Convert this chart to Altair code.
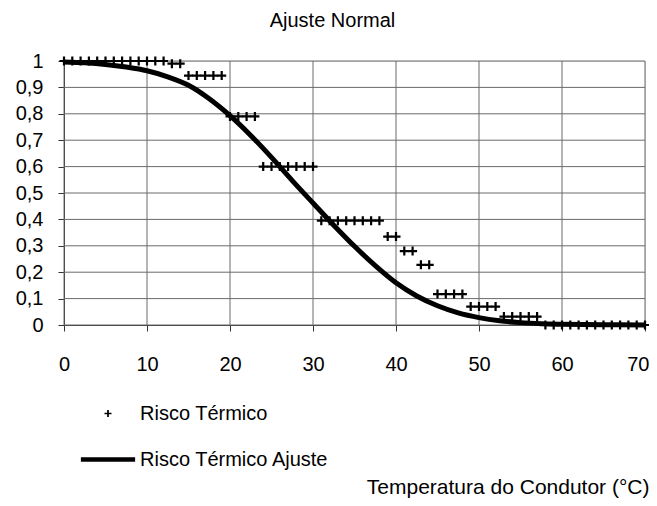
import altair as alt
import pandas as pd

# Observed data (Risco Térmico)
temp_points = list(range(0, 71))
risk_points = ([1.0] * 13 + [0.99] * 2 + [0.945] * 5 + [0.79] * 4 + [0.60] * 7 +
               [0.395] * 8 + [0.335] * 2 + [0.28] * 2 + [0.228] * 2 + [0.117] * 4 +
               [0.07] * 4 + [0.032] * 5 + [0.0] * 13)

# Fitted curve (Risco Térmico Ajuste)
temp_fit = [0, 2.5, 5, 7.5, 10, 12.5, 15, 17.5, 20, 22.5, 25, 27.5, 30, 32.5, 35,
            37.5, 40, 42.5, 45, 47.5, 50, 52.5, 55, 57.5, 60, 65, 70]
risk_fit = [0.996, 0.993, 0.987, 0.977, 0.963, 0.94, 0.908, 0.857, 0.793, 0.718,
            0.635, 0.547, 0.462, 0.378, 0.298, 0.225, 0.16, 0.11, 0.073, 0.046,
            0.028, 0.016, 0.009, 0.005, 0.003, 0.001, 0.0]

x_ticks = [0, 10, 20, 30, 40, 50, 60, 70]
y_ticks = [0, 0.1, 0.2, 0.3, 0.4, 0.5, 0.6, 0.7, 0.8, 0.9, 1]

series_names = ["Risco Térmico", "Risco Térmico Ajuste"]

pts = pd.DataFrame({"x": temp_points, "y": risk_points, "series": series_names[0]})
fit = pd.DataFrame({"x": temp_fit, "y": risk_fit})
xgrid = pd.DataFrame({"x": x_ticks})
ygrid = pd.DataFrame({"y": y_ticks})

FONT = "Liberation Sans"
GRID = "#6a6a6a"

plus_path = ("M-0.146,-0.036H-0.036V-0.146H0.036V-0.036H0.146V0.036H0.036V0.146"
             "H-0.036V0.036H-0.146Z")
line_path = "M-1.13,-0.098H1.13V0.098H-1.13Z"

xscale = alt.Scale(domain=[0, 70], nice=False, zero=False)
yscale = alt.Scale(domain=[0, 1], nice=False)


def make_xaxis():
    return alt.Axis(values=x_ticks, grid=False, domainColor="#333",
                    tickColor="#333", tickSize=6, labelFontSize=20, labelFont=FONT,
                    labelColor="black", labelPadding=23, labelOverlap=False,
                    labelAlign=alt.condition("datum.value == 70", alt.value("right"),
                                             alt.value("center")),
                    labelOffset=alt.condition("datum.value == 70", alt.value(4), alt.value(0)),
                    title="Temperatura do Condutor (°C)",
                    titleFont=FONT, titleFontSize=21, titleFontWeight="normal",
                    titleColor="black", titleAlign="right", titleX=585, titleY=168,
                    titleBaseline="alphabetic", titleAnchor="end")


def make_yaxis():
    return alt.Axis(values=y_ticks, tickCount=11, grid=False,
                    domainColor="#333", tickColor="#333", tickSize=6, labelFontSize=20,
                    labelFont=FONT, labelColor="black", labelPadding=15,
                    labelOverlap=False, title=None,
                    labelExpr="replace(format(datum.value, '.1~f'), '.', ',')")


vgrid = alt.Chart(xgrid).mark_rule(color=GRID, strokeWidth=1).encode(
    x=alt.X("x:Q", scale=xscale, axis=make_xaxis()),
)
hgrid = alt.Chart(ygrid).mark_rule(color=GRID, strokeWidth=1).encode(
    y=alt.Y("y:Q", scale=yscale, axis=make_yaxis()),
)

points = alt.Chart(pts).mark_point(filled=True, color="black", size=3800, opacity=1,
                                   strokeWidth=0).encode(
    x=alt.X("x:Q", scale=xscale, axis=make_xaxis()),
    y=alt.Y("y:Q", scale=yscale, axis=make_yaxis()),
    shape=alt.Shape("series:N",
                    scale=alt.Scale(domain=series_names, range=[plus_path, line_path]),
                    legend=alt.Legend(title=None, orient="none", legendX=20, legendY=328.5,
                                      direction="vertical", symbolSize=2304,
                                      symbolFillColor="black", symbolStrokeColor="black",
                                      symbolStrokeWidth=0, labelFont=FONT,
                                      labelFontSize=20, labelColor="black", labelLimit=0,
                                      labelOffset=8, rowPadding=12, padding=0)),
)

line = alt.Chart(fit).mark_line(color="black", strokeWidth=5, interpolate="monotone").encode(
    x=alt.X("x:Q", scale=xscale, axis=make_xaxis()),
    y=alt.Y("y:Q", scale=yscale, axis=make_yaxis()),
)

chart = alt.layer(vgrid, hgrid, points, line).properties(
    width=581, height=264,
    title=alt.TitleParams("Ajuste Normal", font=FONT, fontSize=20, fontWeight="normal",
                          color="black", anchor="middle", dx=-22, offset=4,
                          baseline="alphabetic"),
    autosize=alt.AutoSizeParams(type="none"),
    padding={"left": 56, "top": 53, "right": 4, "bottom": 173},
).configure_view(stroke=GRID, strokeWidth=1).configure(background="white")

chart.save("out.html", embed_options={"renderer": "svg", "actions": False})
